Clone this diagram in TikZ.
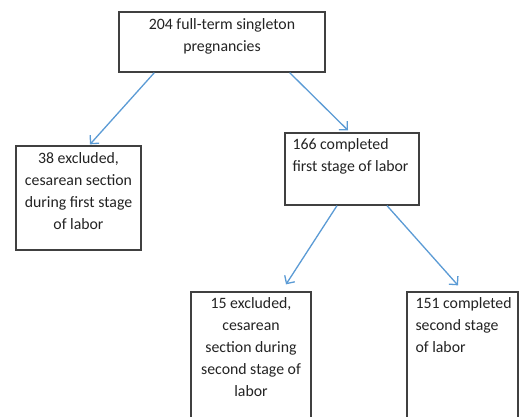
\documentclass[tikz,border=0pt]{standalone}
\usepackage{fontspec}
\setmainfont{Carlito}
\usetikzlibrary{arrows.meta}
\definecolor{arrowblue}{RGB}{91,155,213}
\definecolor{boxline}{RGB}{64,64,64}
\definecolor{txt}{RGB}{35,35,35}
\tikzset{
  box/.style={draw=boxline, line width=1.3pt, fill=white, inner sep=0pt},
  lab/.style={inner sep=0pt, text=txt, font=\fontsize{15.8pt}{22pt}\selectfont},
  conn/.style={draw=arrowblue, line width=1.3pt, -{Straight Barb[length=6pt,width=12pt,line width=1.3pt]}}
}
\begin{document}
\begin{tikzpicture}[x=1pt,y=1pt]
\useasboundingbox (0,0) rectangle (522,-416);
\clip (0,0) rectangle (522,-416);
\fill[white] (0,0) rectangle (522,-416);
% boxes
\node[box, minimum width=206pt, minimum height=60pt,
  label={[lab, anchor=north, align=center, yshift=-7pt]north:{204 full-term singleton\\pregnancies}}]
  (top) at (222,-42) {};
\node[box, minimum width=125pt, minimum height=104pt,
  label={[lab, anchor=north, align=center, yshift=-6.5pt]north:{38 excluded,\\cesarean section\\during first stage\\of labor}}]
  (left) at (78.5,-198) {};
\node[box, minimum width=134pt, minimum height=72pt,
  label={[lab, anchor=north west, align=left, yshift=-6pt, xshift=8pt]north west:{166 completed\\first stage of labor}}]
  (mid) at (352,-169) {};
\node[box, minimum width=120pt, minimum height=138pt,
  label={[lab, anchor=north, align=center, yshift=-5.5pt]north:{15 excluded,\\cesarean\\section during\\second stage of\\labor}}]
  (bl) at (251,-361) {};
\node[box, minimum width=111pt, minimum height=138pt,
  label={[lab, anchor=north west, align=left, yshift=-5.5pt, xshift=9pt]north west:{151 completed\\second stage\\of labor}}]
  (br) at (462.5,-361) {};
% connectors
\draw[conn] ([xshift=36pt]top.south west) -- ([xshift=11.5pt,yshift=1pt]left.north);
\draw[conn] ([xshift=-36pt]top.south east) -- ([xshift=-4pt,yshift=2pt]mid.north);
\draw[conn] ([xshift=-15pt]mid.south) -- ([xshift=35pt,yshift=7pt]bl.north);
\draw[conn] ([xshift=35pt]mid.south) -- ([xshift=-4.5pt,yshift=6pt]br.north);
\end{tikzpicture}
\end{document}
